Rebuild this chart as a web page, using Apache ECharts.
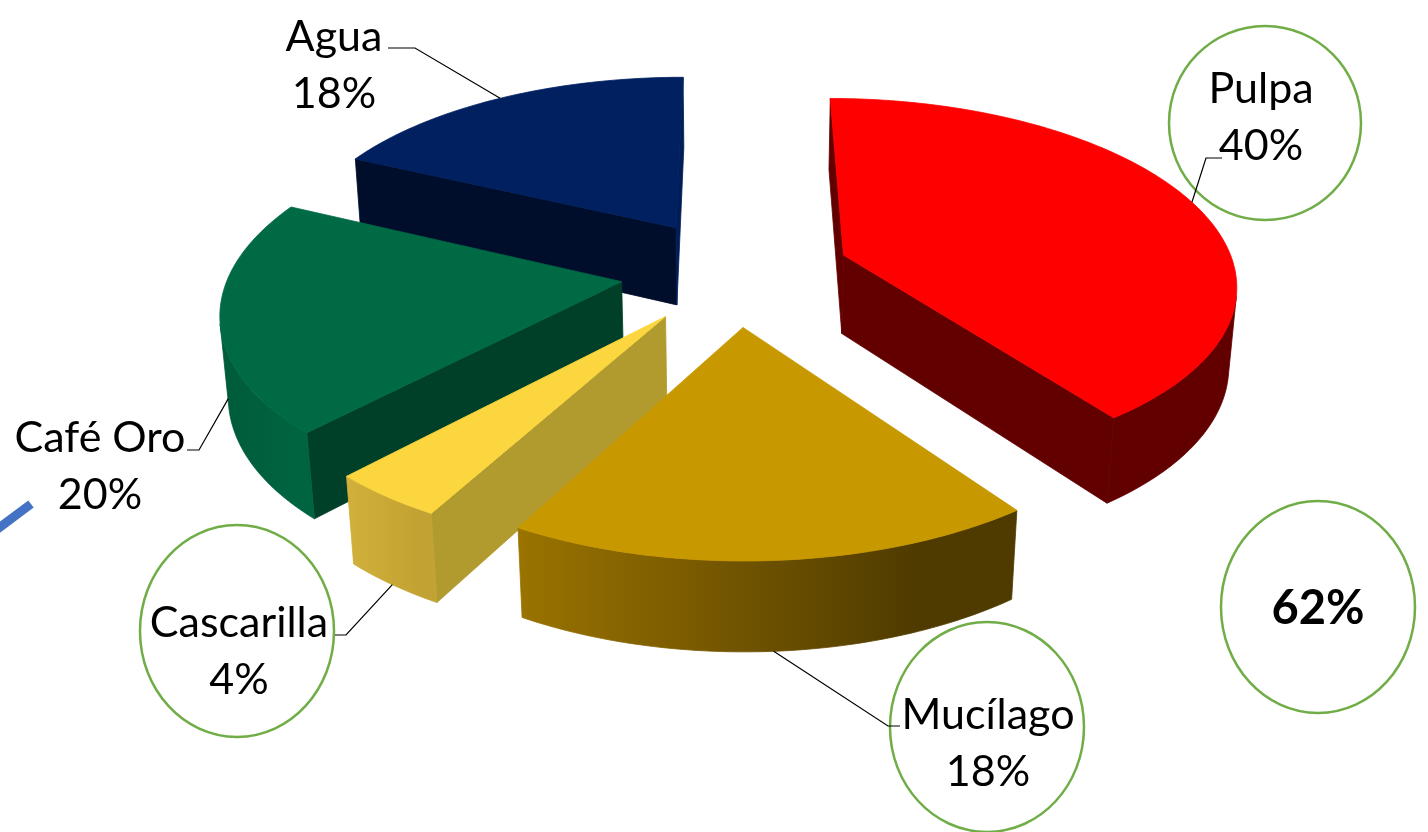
<!DOCTYPE html>
<html>
<head>
<meta charset="utf-8">
<title>Composición del fruto de café</title>
<script src="https://cdn.jsdelivr.net/npm/echarts@6/dist/echarts.min.js"></script>
<style>
  html, body { margin: 0; padding: 0; background: #ffffff; }
  #chart { width: 1428px; height: 832px; }
</style>
</head>
<body>
<div id="chart"></div>
<script>
// Slice values, clockwise from twelve o'clock
const categories = ['Pulpa', 'Mucílago', 'Cascarilla', 'Café Oro', 'Agua'];
const shares = [40, 18, 4, 20, 18];
// The ringed total covers the first three components
const groupedTotal = shares[0] + shares[1] + shares[2];

// Perspective view of the exploded pie
const view = {
  cx: 735.5, cy: 271.5, sinPitch: 0.467, cosPitch: 0.884,
  depthY: 0.00036, depthZ: 0.000177,
  radius: 392, height: 91, explode: 115
};

const topColors = ['#ff0000', '#c89800', '#fcd63e', '#006a45', '#002060'];
const startWallColors = ['#620000', '#620000', '#b19a2e', '#003f28', '#000e2b'];
const endWallColors = ['#620000', '#4f3b00', '#b19a2e', '#003f28', '#001d58'];
const rimGradients = [
  ['#620000', '#620000'],
  ['#9a7300', '#4f3b00'],
  ['#d2b03b', '#c2a232'],
  ['#005b3a', '#006441'],
  ['#001d58', '#001d58']
];

// Text, ring and leader placement
const labelCenters = [[1261, 89], [988, 715], [239, 623], [100, 438], [334, 37]];
const labelLineGap = 57;
const leaderElbows = [
  [[1222, 158], [1206, 158]],
  [[900, 726], [888, 726]],
  [[335, 635], [346, 635]],
  [[187, 450], [199, 450]],
  [[388, 48], [415, 48]]
];
const rings = [
  [1265, 123, 96, 97],
  [987, 727, 97, 105],
  [237, 631, 97, 106],
  [1318, 607, 97, 106]
];

const labelFont = '43px Lato, Carlito, sans-serif';
const totalFont = 'bold 47px Lato, Carlito, sans-serif';

const total = shares.reduce((a, b) => a + b, 0);
const toRad = d => d * Math.PI / 180;

// Start, end and middle angle of every slice, in degrees
const spans = [];
shares.reduce((start, v) => {
  const end = start + v / total * 360;
  spans.push({ start, end, mid: (start + end) / 2 });
  return end;
}, 0);

function project(X, Y, Z) {
  const d = 1 + view.depthY * Y - view.depthZ * Z;
  return [
    view.cx + X / d,
    view.cy - (Y * view.sinPitch + Z * view.cosPitch) / d
  ];
}

function apexOf(i) {
  const m = toRad(spans[i].mid);
  return [view.explode * Math.sin(m), view.explode * Math.cos(m)];
}

function rimPoint(i, deg, Z) {
  const a = apexOf(i);
  const t = toRad(deg);
  return project(a[0] + view.radius * Math.sin(t), a[1] + view.radius * Math.cos(t), Z);
}

function apexPoint(i, Z) {
  const a = apexOf(i);
  return project(a[0], a[1], Z);
}

// Negative signed area means the wall faces the viewer
function signedArea(pts) {
  let s = 0;
  pts.forEach((p, k) => {
    const q = pts[(k + 1) % pts.length];
    s += p[0] * q[1] - q[0] * p[1];
  });
  return s;
}

// Each face is stroked in its own fill so neighbouring faces leave no seam
function polygon(points, fill, z2) {
  return {
    type: 'polygon', z2, silent: true, shape: { points },
    style: { fill, stroke: fill, lineWidth: 0.8, lineJoin: 'round' }
  };
}

// Painter's order: slices pointing away from the viewer are drawn first
const depthRank = {};
spans
  .map((s, i) => ({ i, depth: Math.cos(toRad(s.mid)) }))
  .sort((a, b) => b.depth - a.depth)
  .forEach((e, rank) => { depthRank[e.i] = rank; });

function renderSlice(params) {
  const i = params.dataIndex;
  const span = spans[i];
  const base = depthRank[i] * 10;
  const steps = Math.max(8, Math.round(span.end - span.start));
  const H = -view.height;
  const angles = [];
  for (let k = 0; k <= steps; k++) angles.push(span.start + (span.end - span.start) * k / steps);

  const topRim = angles.map(a => rimPoint(i, a, 0));
  const lowRim = angles.map(a => rimPoint(i, a, H));
  const apexTop = apexPoint(i, 0);
  const apexLow = apexPoint(i, H);
  const children = [];

  const startWall = [apexTop, topRim[0], lowRim[0], apexLow];
  if (signedArea(startWall) < 0) children.push(polygon(startWall, startWallColors[i], base + 1));
  const endWall = [topRim[steps], apexTop, apexLow, lowRim[steps]];
  if (signedArea(endWall) < 0) children.push(polygon(endWall, endWallColors[i], base + 1));

  // Outer curved wall: only the run of strips that faces the viewer
  let from = -1, to = -1;
  for (let k = 0; k < steps; k++) {
    const strip = [topRim[k], topRim[k + 1], lowRim[k + 1], lowRim[k]];
    if (signedArea(strip) < 0) {
      if (from < 0) from = k;
      to = k + 1;
    }
  }
  if (from >= 0) {
    const pts = topRim.slice(from, to + 1).concat(lowRim.slice(from, to + 1).reverse());
    const g = rimGradients[i];
    children.push(polygon(pts, {
      type: 'linear', x: 0, y: 0, x2: 1, y2: 0,
      colorStops: [{ offset: 0, color: g[0] }, { offset: 0.8, color: g[1] }, { offset: 1, color: g[1] }]
    }, base + 2));
  }

  children.push(polygon([apexTop].concat(topRim), topColors[i], base + 5));
  return { type: 'group', children };
}

function renderRing(params) {
  const r = rings[params.dataIndex];
  return {
    type: 'ellipse', silent: true,
    shape: { cx: r[0], cy: r[1], rx: r[2], ry: r[3] },
    style: { fill: 'none', stroke: '#70ad47', lineWidth: 2.5 }
  };
}

function renderLabel(params) {
  const i = params.dataIndex;
  const c = labelCenters[i];
  const mid = spans[i].mid;
  // Far slices take the leader on the top rim, near slices on the lower rim
  const faceZ = Math.cos(toRad(mid)) > 0 ? 0 : -view.height;
  const tip = rimPoint(i, mid, faceZ);
  const elbow = leaderElbows[i];
  const lineStyle = (text, y) => ({
    type: 'text', silent: true,
    style: { text, x: c[0], y, font: labelFont, fill: '#000000', align: 'center', verticalAlign: 'middle' }
  });
  return {
    type: 'group',
    children: [
      {
        type: 'polyline', silent: true,
        shape: { points: [elbow[0], elbow[1], tip] },
        style: { fill: 'none', stroke: '#000000', lineWidth: 1.2 }
      },
      lineStyle(categories[i], c[1]),
      lineStyle(shares[i] + '%', c[1] + labelLineGap)
    ]
  };
}

const chart = echarts.init(document.getElementById('chart'), null, { renderer: 'canvas' });
chart.setOption({
  animation: false,
  backgroundColor: '#ffffff',
  tooltip: { show: false },
  graphic: [
    {
      type: 'text', silent: true, z: 10,
      style: {
        text: groupedTotal + '%', x: 1318, y: 609, font: totalFont,
        fill: '#000000', align: 'center', verticalAlign: 'middle'
      }
    },
    {
      type: 'line', silent: true, z: 10,
      shape: { x1: -4, y1: 530, x2: 31, y2: 504 },
      style: { stroke: '#4472c4', lineWidth: 9 }
    }
  ],
  series: [
    { type: 'custom', name: 'Anillos', coordinateSystem: 'none', z: 1, data: rings.map((r, i) => [i]), renderItem: renderRing },
    { type: 'custom', name: 'Componentes', coordinateSystem: 'none', z: 2, data: shares.map(v => [v]), renderItem: renderSlice },
    { type: 'custom', name: 'Etiquetas', coordinateSystem: 'none', z: 3, data: shares.map(v => [v]), renderItem: renderLabel }
  ]
});
</script>
</body>
</html>
